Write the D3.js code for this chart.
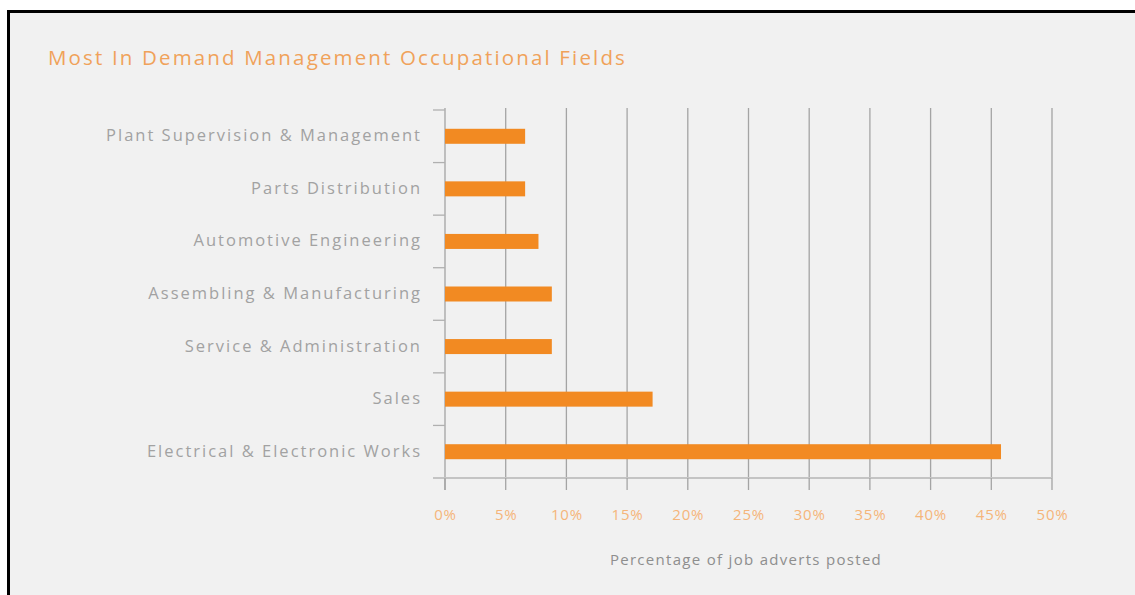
<!DOCTYPE html>
<html>
<head>
<meta charset="utf-8">
<script src="https://cdn.jsdelivr.net/npm/d3@7"></script>
<style>
  html, body { margin: 0; padding: 0; background: #f1f1f1; }
  svg { display: block; }
</style>
</head>
<body>
<script>
const categories = [
  "Plant Supervision & Management",
  "Parts Distribution",
  "Automotive Engineering",
  "Assembling & Manufacturing",
  "Service & Administration",
  "Sales",
  "Electrical & Electronic Works"
];
const values = [6.6, 6.6, 7.7, 8.8, 8.8, 17.1, 45.8];
const tickValues = [0, 5, 10, 15, 20, 25, 30, 35, 40, 45, 50];
const tickLabels = ["0%", "5%", "10%", "15%", "20%", "25%", "30%", "35%", "40%", "45%", "50%"];
const titleText = "Most In Demand Management Occupational Fields";
const xAxisTitle = "Percentage of job adverts posted";

const W = 1135, H = 595;
const svg = d3.select("body").append("svg").attr("width", W).attr("height", H);
const font = "'Open Sans', 'DejaVu Sans', sans-serif";

// background + frame
svg.append("rect").attr("x", 0).attr("y", 0).attr("width", W).attr("height", H).attr("fill", "#ffffff");
svg.append("rect").attr("x", 8.5).attr("y", 11.5).attr("width", W + 10).attr("height", H + 10)
  .attr("fill", "#f1f1f1").attr("stroke", "#000").attr("stroke-width", 3);

svg.append("text").attr("x", 48).attr("y", 65)
  .attr("font-family", font).attr("font-size", 20.5).attr("fill", "#f0a25a")
  .attr("letter-spacing", 2.15)
  .text(titleText);

const x = d3.scaleLinear().domain([0, 50]).range([445, 1052]);
const y = d3.scaleBand().domain(categories).range([110, 478]).padding(0);
const barH = 15;

// gridlines
svg.append("g").selectAll("line").data(tickValues.slice(1)).join("line")
  .attr("x1", d => x(d)).attr("x2", d => x(d))
  .attr("y1", 108).attr("y2", 478)
  .attr("stroke", "#a4a4a4").attr("stroke-width", 1.3);

// left axis line and ticks at band boundaries
svg.append("line").attr("x1", x(0)).attr("x2", x(0)).attr("y1", 108).attr("y2", 490)
  .attr("stroke", "#a4a4a4").attr("stroke-width", 1.3);
const bounds = categories.map(c => y(c));
svg.append("g").selectAll("line").data(bounds).join("line")
  .attr("x1", 433).attr("x2", x(0))
  .attr("y1", d => d).attr("y2", d => d)
  .attr("stroke", "#b0b0b0").attr("stroke-width", 1.3);

// bottom axis line
svg.append("line").attr("x1", 433).attr("x2", x(50)).attr("y1", 478).attr("y2", 478)
  .attr("stroke", "#c4c4c4").attr("stroke-width", 2);
svg.append("g").selectAll("line").data(tickValues).join("line")
  .attr("x1", d => x(d)).attr("x2", d => x(d))
  .attr("y1", 478).attr("y2", 490)
  .attr("stroke", "#a4a4a4").attr("stroke-width", 1.3);

// bars
svg.append("g").selectAll("rect").data(categories).join("rect")
  .attr("x", x(0))
  .attr("y", d => y(d) + (y.bandwidth() - barH) / 2)
  .attr("width", (d, i) => x(values[i]) - x(0))
  .attr("height", barH)
  .attr("fill", "#f28a22");

// category labels
svg.append("g").selectAll("text").data(categories).join("text")
  .attr("x", 422)
  .attr("y", d => y(d) + y.bandwidth() / 2 + 5)
  .attr("text-anchor", "end")
  .attr("letter-spacing", 2.0)
  .attr("font-family", font).attr("font-size", 16.5).attr("fill", "#a2a2a2")
  .text(d => d);

// tick labels
svg.append("g").selectAll("text").data(tickValues).join("text")
  .attr("x", d => x(d) + 0.5)
  .attr("y", 520)
  .attr("text-anchor", "middle")
  .attr("letter-spacing", 0.8)
  .attr("font-family", font).attr("font-size", 15).attr("fill", "#f5b57a")
  .text((d, i) => tickLabels[i]);

svg.append("text").attr("x", 746).attr("y", 565)
  .attr("text-anchor", "middle")
  .attr("letter-spacing", 1.3)
  .attr("font-family", font).attr("font-size", 15).attr("fill", "#8e8e8e")
  .text(xAxisTitle);
</script>
</body>
</html>
